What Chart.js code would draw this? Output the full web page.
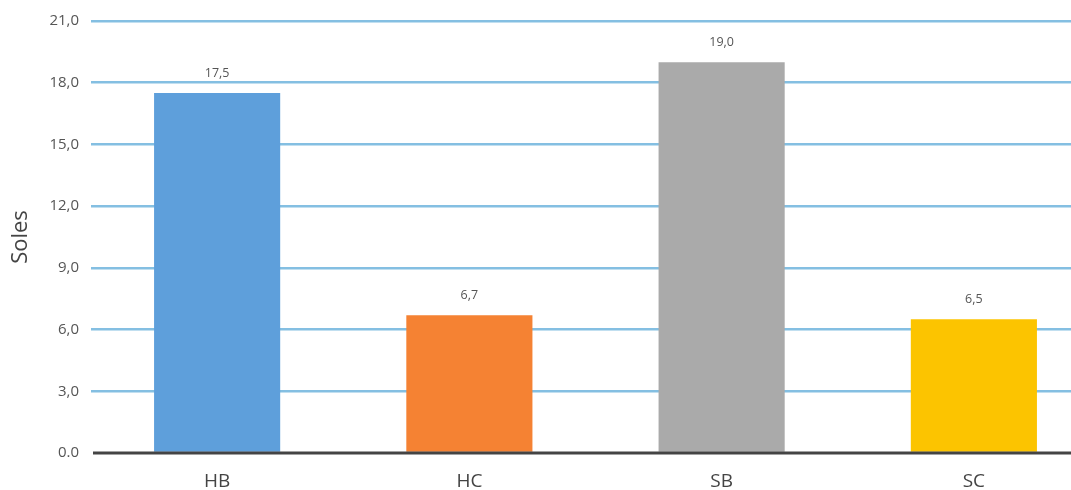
<!DOCTYPE html>
<html>
<head>
<meta charset="utf-8">
<script src="https://cdn.jsdelivr.net/npm/chart.js@4"></script>
<style>
  html, body { margin: 0; padding: 0; background: #fff; overflow: hidden; }
  #wrap { width: 1100px; height: 490px; }
</style>
</head>
<body>
<div id="wrap"><canvas id="chart"></canvas></div>
<script>
const categories = ["HB", "HC", "SB", "SC"];
const soles = [17.5, 6.7, 19.0, 6.5];
const barColors = ["#5e9fdb", "#f58233", "#aaaaaa", "#fcc400"];
const yTicks = [0, 3, 6, 9, 12, 15, 18, 21];

const FONT = "'Open Sans', sans-serif";

function fmt(v) {
  // the original shows "0.0" at the base but commas elsewhere
  if (v === 0) return "0.0";
  return v.toFixed(1).replace(".", ",");
}

const valueLabels = {
  id: "valueLabels",
  afterDatasetsDraw(chart) {
    const ctx = chart.ctx;
    const meta = chart.getDatasetMeta(0);
    const y0 = chart.scales.y.getPixelForValue(0);
    ctx.save();
    // dark base line over the bars
    ctx.strokeStyle = "#444444";
    ctx.lineWidth = 3;
    ctx.beginPath();
    ctx.moveTo(chart.chartArea.left + 2, y0);
    ctx.lineTo(chart.chartArea.right, y0);
    ctx.stroke();

    ctx.fillStyle = "#555555";
    ctx.font = "12.5px " + FONT;
    ctx.textAlign = "center";
    ctx.textBaseline = "middle";
    meta.data.forEach((bar, i) => {
      ctx.fillText(fmt(soles[i]), bar.x, bar.y - 20);
    });
    ctx.restore();
  }
};

new Chart(document.getElementById("chart"), {
  type: "bar",
  data: {
    labels: categories,
    datasets: [{
      data: soles,
      backgroundColor: barColors,
      categoryPercentage: 0.5,
      barPercentage: 1.0,
    }],
  },
  options: {
    responsive: true,
    maintainAspectRatio: false,
    animation: false,
    layout: { padding: { top: 21, right: 0, left: 0, bottom: 0 } },
    plugins: {
      legend: { display: false },
      tooltip: { enabled: false },
    },
    scales: {
      x: {
        grid: { display: false },
        border: { display: false },
        ticks: {
          color: "#444444",
          font: { family: FONT, size: 19 },
          padding: 9,
        },
        afterFit(scale) { scale.height = 37; },
      },
      y: {
        min: 0,
        max: 21,
        afterBuildTicks(scale) {
          scale.ticks = yTicks.map(v => ({ value: v }));
        },
        border: { display: false },
        grid: {
          drawTicks: false,
          color: ctx => ctx.tick && ctx.tick.value === 0 ? "rgba(0,0,0,0)" : "#84bfe2",
          lineWidth: 2.5,
        },
        ticks: {
          color: "#555555",
          font: { family: FONT, size: 15 },
          padding: 12,
          callback: v => fmt(v),
        },
        title: {
          display: true,
          text: "Soles",
          color: "#444444",
          font: { family: FONT, size: 22 },
          padding: { top: 8, bottom: 12 },
        },
        afterFit(scale) { scale.width = 91; },
      },
    },
  },
  plugins: [valueLabels],
});
</script>
</body>
</html>
